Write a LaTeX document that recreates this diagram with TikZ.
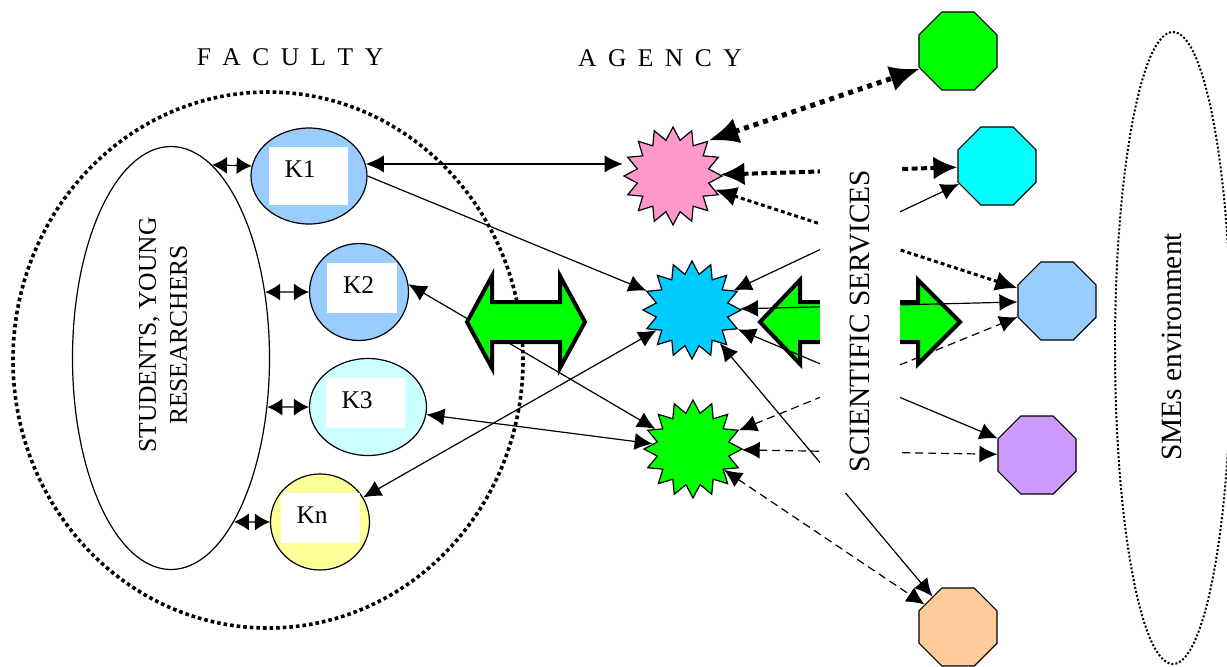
\documentclass[tikz,border=0pt]{standalone}
\usepackage{fontspec}
\setmainfont{Liberation Serif}
\usetikzlibrary{arrows.meta,shapes.geometric}
\definecolor{kblue}{HTML}{99CCFF}
\definecolor{kcyan}{HTML}{CCFFFF}
\definecolor{kyellow}{HTML}{FFFF99}
\definecolor{starpink}{HTML}{FF99CC}
\definecolor{starblue}{HTML}{00CCFF}
\definecolor{brightgreen}{HTML}{00FF00}
\definecolor{smecyan}{HTML}{00FFFF}
\definecolor{smeblue}{HTML}{99CCFF}
\definecolor{smeviolet}{HTML}{CC99FF}
\definecolor{smeorange}{HTML}{FFCC99}

\begin{document}
\begin{tikzpicture}[x=0.5pt,y=-0.5pt]
    \tikzstyle{unit} = [draw,ellipse,inner sep=0pt,line width=0.6pt]
    \tikzstyle{tag} = [fill=white,align=left,inner xsep=8pt,inner ysep=0pt,text width=23.5pt,text height=15pt,text depth=10pt,font=\fontsize{12.75}{15}\selectfont]
    \tikzstyle{agent} = [draw,star,star points=16,star point ratio=1.35,minimum size=49pt,inner sep=0pt,line width=0.6pt]
    \tikzstyle{sme} = [draw,regular polygon,regular polygon sides=8,minimum size=42.2pt,inner sep=0pt,line width=0.6pt]
    \tikzstyle{link} = [<->,>={Latex[length=9pt,width=8.5pt]},line width=0.6pt]
    \tikzstyle{pair} = [<->,>={Latex[length=7.5pt,width=8.5pt]},line width=0.6pt]
    \tikzstyle{thin dash} = [dash pattern=on 4pt off 2.5pt]
    \tikzstyle{title} = [font={\fontsize{12.75}{15}\selectfont\spaceskip=0.45em\relax}]
    \tikzstyle{block} = [draw,line width=2pt,fill=brightgreen,line join=miter]
    \tikzstyle{big} = [font=\fontsize{14.7}{17}\selectfont]

    \useasboundingbox (0,0) rectangle (1227,666);

    % faculty and SMEs environment
    \node [draw,ellipse,line width=1.8pt,dash pattern=on 1.8pt off 1.5pt,minimum width=255pt,minimum height=268pt] (faculty) at (268,360) {};
    \node [draw,ellipse,line width=1pt,dash pattern=on 1pt off 1pt,minimum width=58pt,minimum height=316pt] (smes) at (1173,348) {};
    \node [title] (facultytitle) at (290,57) {F A C U L T Y};
    \node [title] (agencytitle) at (660,58) {A G E N C Y};

    \node [draw,ellipse,inner sep=0pt,line width=0.6pt,minimum width=98.5pt,minimum height=211.5pt] (stud) at (171,358) {};
    \node [rotate=90,align=center,font=\fontsize{12.75}{15.5}\selectfont] (studtext) at (163,335) {STUDENTS, YOUNG\\RESEARCHERS};

    \node [unit,fill=kblue,minimum width=58pt,minimum height=48pt] (K1) at (309,176) {};
    \node [tag,text depth=14pt] (K1tag) at (308,176) {K1};
    \node [unit,fill=kblue,minimum width=49.5pt,minimum height=48.5pt] (K2) at (359,292) {};
    \node [tag,text width=19pt] (K2tag) at (362,288) {K2};
    \node [unit,fill=kcyan,minimum width=58.5pt,minimum height=48.5pt] (K3) at (368,407) {};
    \node [tag] (K3tag) at (365,403) {K3};
    \node [unit,fill=kyellow,minimum width=49.5pt,minimum height=48pt] (Kn) at (320,522) {};
    \node [tag] (Kntag) at (320,518) {Kn};

    % agency
    \node [agent,fill=starpink] (pink) at (673,176) {};
    \node [agent,fill=starblue] (bstar) at (692,310) {};
    \node [agent,fill=brightgreen] (gstar) at (693,449) {};

    % SMEs
    \node [sme,fill=brightgreen] (green) at (958,51) {};
    \node [sme,fill=smecyan] (cyan) at (997,166) {};
    \node [sme,fill=smeblue] (lblue) at (1057,301) {};
    \node [sme,fill=smeviolet] (violet) at (1037,455) {};
    \node [sme,fill=smeorange] (orange) at (958,627) {};

    \draw [block] (760,322) -- (800,280) -- (800,302) -- (918,302) -- (918,280) -- (960,322) -- (918,364) -- (918,342) -- (800,342) -- (800,364) -- cycle;

    \draw [pair] (stud.78) -- (K1.170);
    \foreach \k/\a in {K2/35,K3/-27,Kn/-69}
      \draw [pair] (stud.\a) -- (\k.west);
    \draw [link] (K1.12) -- (pink.west |- K1.12);
    \draw [link,->] (K1.east) -- (bstar.157);
    \draw [link] (K2.9) -- (gstar.152);
    \draw [link] (K3) -- (gstar);
    \draw [link] (Kn) -- (bstar);
    \draw [link,line width=2.5pt,dash pattern=on 2.5pt off 2.5pt,>={Latex[length=15pt,width=13pt]}] (pink.45) -- (green.205);
    \draw [link,line width=2pt,dash pattern=on 3pt off 1.7pt,>={Latex[length=12pt,width=11.5pt]}] (pink) -- (cyan);
    \draw [link,line width=1.5pt,dash pattern=on 2pt off 1.5pt,>={Latex[length=11pt,width=10pt]}] (pink) -- (lblue);
    \draw [link] (bstar) -- (cyan);
    \draw [link] (bstar) -- (lblue);
    \draw [link] (bstar) -- (violet);
    \draw [link] (bstar) -- (orange);
    \draw [link,thin dash] (gstar) -- (lblue);
    \draw [link,thin dash] (gstar) -- (violet);
    \draw [link,thin dash] (gstar) -- (orange);

    \draw [block] (467,322) -- (492,276) -- (492,302) -- (560,302) -- (560,276) -- (585,322) -- (560,368) -- (560,342) -- (492,342) -- (492,368) -- cycle;

    \node [big,rotate=90,fill=white,minimum width=171.5pt,minimum height=40pt,inner sep=0pt] (services) at (860,321) {SCIENTIFIC SERVICES};
    \node [big,rotate=90] (smestext) at (1172,347) {SMEs environment};
\end{tikzpicture}
\end{document}
